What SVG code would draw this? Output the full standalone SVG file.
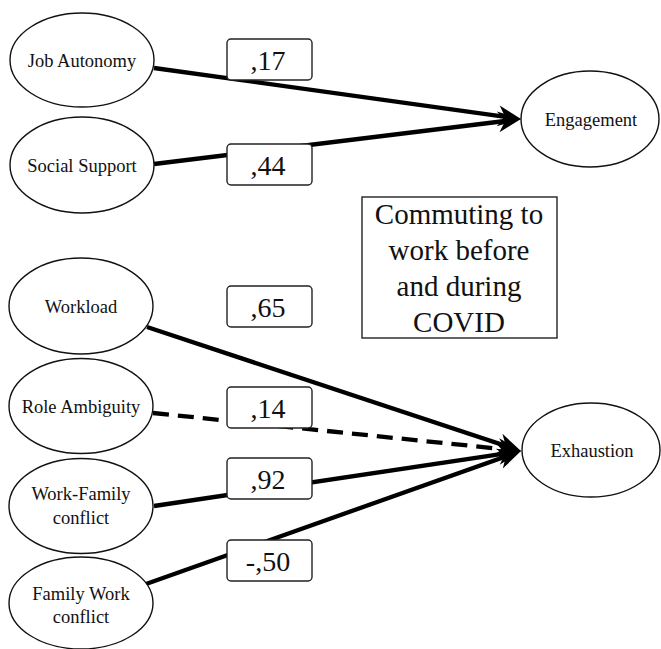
<svg xmlns="http://www.w3.org/2000/svg" width="661" height="649" viewBox="0 0 661 649">
<style>
text{font-family:'Liberation Serif','Times New Roman',serif;fill:#111;text-anchor:middle}
.node ellipse{fill:#fff;stroke:#111;stroke-width:1.4}
.node text{font-size:18.5px}
.edge{fill:none;stroke:#000;stroke-width:4.3}
.dash{stroke-dasharray:16 9}
.lbl rect{fill:#fff;stroke:#222;stroke-width:1.4}
.lbl text{font-size:28px}
.note rect{fill:#fff;stroke:#222;stroke-width:1.4}
.note text{font-size:29px}
</style>
<defs>
<marker id="arr" viewBox="-25 -12 27 24" refX="-12" refY="0" markerWidth="27" markerHeight="24" markerUnits="userSpaceOnUse" orient="auto">
<path d="M0,0 L-23,-10.5 L-16,0 L-23,10.5 Z" fill="#000"/>
</marker>
</defs>
<rect width="661" height="649" fill="#fff"/>
<g id="connectors">
<line class="edge" x1="154" y1="68" x2="509.1" y2="117.3" marker-end="url(#arr)"/>
<line class="edge" x1="154" y1="164" x2="509.1" y2="120.5" marker-end="url(#arr)"/>
<line class="edge" x1="147" y1="327" x2="509.6" y2="447.2" marker-end="url(#arr)"/>
<line class="edge dash" x1="153" y1="413" x2="509.1" y2="449.8" marker-end="url(#arr)"/>
<line class="edge" x1="154" y1="506" x2="509.1" y2="452.8" marker-end="url(#arr)"/>
<line class="edge" x1="146" y1="584" x2="509.7" y2="455.0" marker-end="url(#arr)"/>
</g>
<g id="edge-labels">
<g class="lbl" id="lbl-17"><rect x="227" y="39" width="85" height="41" rx="4"/><text x="268" y="70">,17</text></g>
<g class="lbl" id="lbl-44"><rect x="227" y="144" width="85" height="41" rx="4"/><text x="268" y="175">,44</text></g>
<g class="lbl" id="lbl-65"><rect x="227" y="286" width="85" height="41" rx="4"/><text x="268" y="317">,65</text></g>
<g class="lbl" id="lbl-14"><rect x="227" y="387" width="85" height="41" rx="4"/><text x="268" y="418">,14</text></g>
<g class="lbl" id="lbl-92"><rect x="227" y="458" width="85" height="41" rx="4"/><text x="268" y="489">,92</text></g>
<g class="lbl" id="lbl-50"><rect x="227" y="540" width="85" height="41" rx="4"/><text x="268" y="571">-,50</text></g>
</g>
<g class="node" id="job-autonomy"><ellipse cx="82" cy="60" rx="72" ry="47"/><text x="82" y="67">Job Autonomy</text></g>
<g class="node" id="social-support"><ellipse cx="82" cy="165" rx="72" ry="48"/><text x="82" y="172">Social Support</text></g>
<g class="node" id="workload"><ellipse cx="81" cy="306" rx="72" ry="48"/><text x="81" y="313">Workload</text></g>
<g class="node" id="role-ambiguity"><ellipse cx="81" cy="406" rx="72" ry="47.5"/><text x="81" y="413">Role Ambiguity</text></g>
<g class="node" id="work-family"><ellipse cx="81" cy="506" rx="72" ry="47.5"/><text x="81" y="500">Work-Family</text><text x="81" y="524">conflict</text></g>
<g class="node" id="family-work"><ellipse cx="81" cy="603" rx="72" ry="46"/><text x="81" y="600">Family Work</text><text x="81" y="623">conflict</text></g>
<g class="node" id="engagement"><ellipse cx="590" cy="119" rx="69" ry="48"/><text x="591" y="126">Engagement</text></g>
<g class="node" id="exhaustion"><ellipse cx="591" cy="450" rx="69" ry="47"/><text x="592" y="457">Exhaustion</text></g>
<g class="note" id="commuting"><rect x="362" y="197" width="195" height="141"/>
<text x="459" y="224">Commuting to</text><text x="459" y="260">work before</text><text x="459" y="296">and during</text><text x="459" y="332">COVID</text></g>
</svg>
